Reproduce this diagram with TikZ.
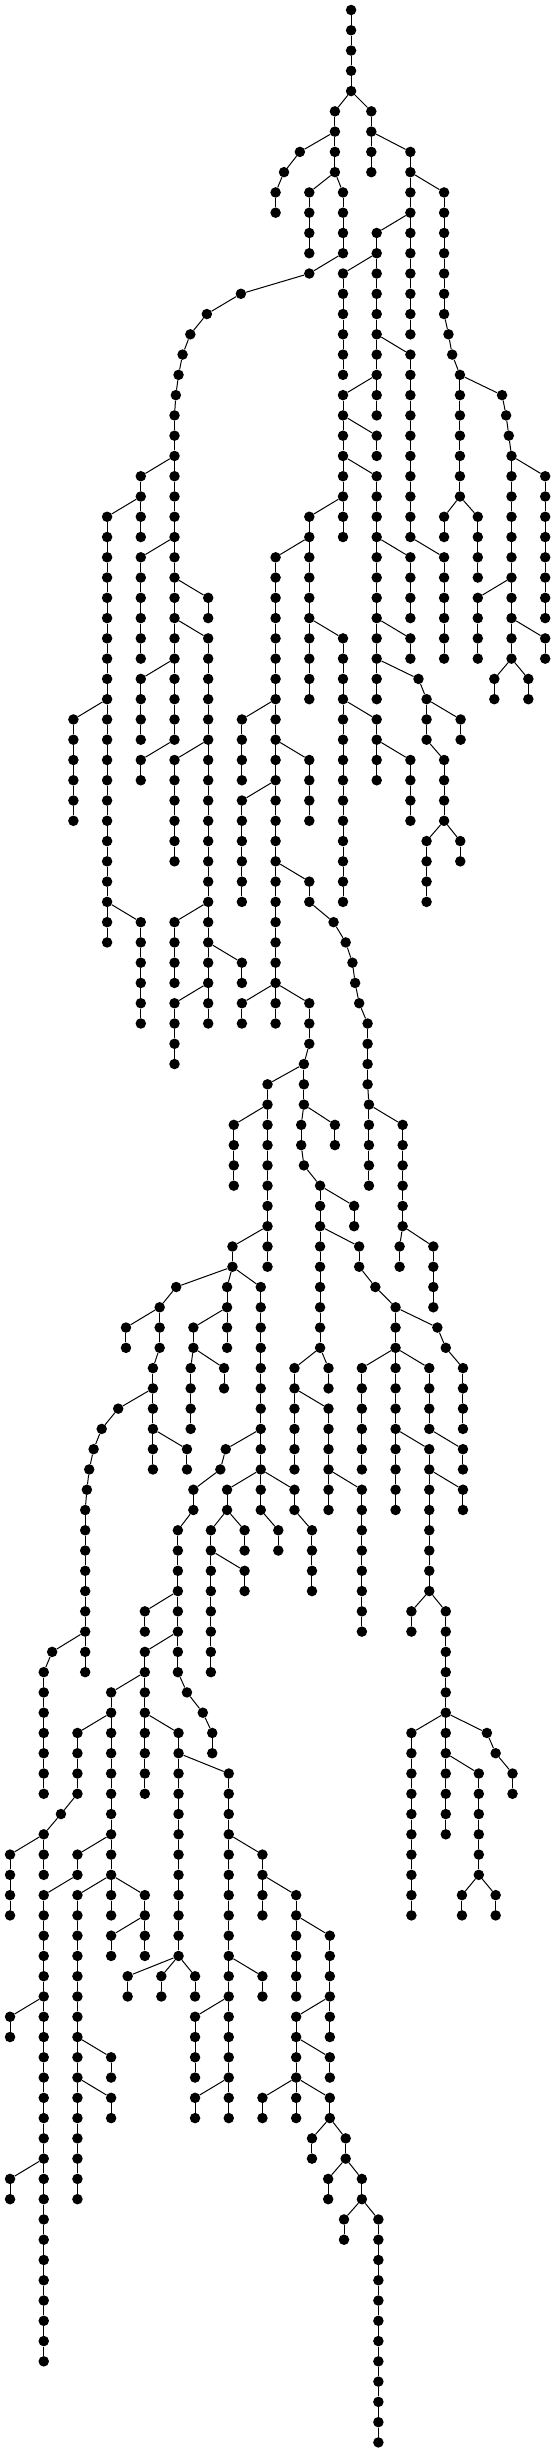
\documentclass[tikz,border=0pt]{standalone}
\usepackage{tikz}
\tikzset{vtx/.style={circle,fill=black,inner sep=0pt,minimum size=10.5pt},
         lnk/.style={line width=1pt}}
\newcommand{\colx}{33.7}
\newcommand{\rowy}{20.27}
\begin{document}
\begin{tikzpicture}[x=1pt,y=1pt]
  \useasboundingbox (0,0) rectangle (550,-2452);
  % root chain
  \foreach \r in {0,...,4}
    \node[vtx] (A-\r) at ({6+\colx*10.24},{-10-\rowy*\r}) {};
  \foreach \r in {1,...,4}{
    \pgfmathtruncatemacro{\rq}{\r-1}
    \draw[lnk] (A-\rq) -- (A-\r);
  }
  % chains: name/column/first row/last row/parent
  \foreach \id/\cx/\ra/\rb/\up in {
    B/9.76/5/8/A-4, C/10.84/5/8/A-4, D/8.72/7/7/B-6, E/8.25/8/8/D-7,
    F/8.0/9/10/E-8, G/9/9/12/B-8, H/10/9/12/B-8, I/12/7/16/C-6,
    J/13/9/15/I-8, K1/13.13/16/16/J-15, K2/13.24/17/17/K1-16, K3/13.47/18/24/K2-17,
    L/11/11/20/I-10, M/10/13/18/L-12, N/9/13/13/H-12,
    O1/6.97/14/14/N-13, O2/5.96/15/15/O1-14, O3/5.47/16/16/O2-15,
    O4/5.24/17/17/O3-16, O5/5.12/18/18/O4-17, O6/5.04/19/19/O5-18,
    P/5/20/36/O6-19, Q/12/17/26/L-16, R/10/19/26/L-18, S/11/21/22/R-20,
    T/11/23/34/R-22, U1/14.72/19/19/K3-18, U2/14.84/20/20/U1-19,
    U3/14.92/21/21/U2-20, V/15/22/32/U3-21, W/16/23/30/V-22, W2/16/31/32/V-30,
    X/13/25/26/K3-24, Y/14/25/28/K3-24, Y2/14/29/32/V-28, Z/9/25/34/R-24,
    a1/4/23/26/P-22, a2/3/25/46/a1-24, a3/2/35/40/a2-34, a4/4/27/32/P-26,
    a5/4/33/36/P-32, a6/4/37/38/P-36, a7/4/45/50/a2-44,
    b1/6/29/30/P-28, b2/6/31/50/P-30, b3/5/37/42/b2-36, b4/5/45/48/b2-44,
    b5/7/47/48/b2-46, b6/5/49/52/b2-48,
    c1/8/27/50/Z-26, c2/7/35/38/c1-34, c3/9/37/40/c1-36, c4/7/39/44/c1-38,
    c5/9/43/44/c1-42, c6/9.72/45/45/c5-44, c7/10.08/46/46/c6-45,
    c8/10.28/47/47/c7-46, c9/10.36/48/48/c8-47, c10/10.48/49/49/c9-48,
    c11/10.73/50/53/c10-49, c12/10.77/54/58/c11-53, c13/11.77/55/60/c12-54,
    c14/11.68/61/62/c13-60, c15/12.68/61/64/c13-60, c16/7/49/50/c1-48,
    c17/9/49/51/c1-48,
    j1/10/31/44/Z-30, j2/11/35/38/j1-34, j3/12/37/40/j2-36,
    k0/12/27/30/T-26, k8/13/27/32/Q-26, k1/12/31/32/T-30, k2/12.24/33/33/T-32,
    k3/12.48/34/36/k2-33, k4/13.49/35/36/k3-34, k5/13/37/40/k3-36,
    k6/12.48/41/44/k5-40, k7/13.48/41/42/k5-40,
    l1/14.49/33/34/V-32, l2/15.5/33/34/V-32,
    d1/8.84/52/54/c17-51, d2/7.76/53/62/d1-52, d3/8.76/55/56/d1-54,
    d4/9.76/55/56/d1-54, d5/8.84/57/57/d3-56, d6/9.32/58/66/d5-57,
    d7/10.33/59/60/d6-58, d8/10.48/61/62/d6-60, d9/10.96/63/63/d8-62,
    d10/6.76/55/58/d2-54, d12/6.72/61/62/d2-60, d13/5.05/63/63/d12-62,
    d14/6.56/63/66/d12-62, d15/7.56/63/74/d12-62,
    e1/4.56/64/66/d13-63, e2/3.56/65/66/e1-64, e3/4.36/67/72/e1-66,
    e4/3.33/69/69/e3-68, e5/2.84/70/70/e4-69, e6/2.6/71/71/e5-70,
    e7/2.47/72/72/e6-71, e8/2.4/73/73/e7-72, e9/2.35/74/82/e8-73,
    e10/5.37/71/72/e3-70, e11/5.56/65/66/d14-64, e12/5.48/67/70/e11-66,
    e13/6.47/67/68/e11-66, e14/6.52/71/71/d15-70, e15/6.36/72/72/e14-71,
    e16/5.56/73/74/e15-72, e17/5.1/75/82/e16-74, e18/6.56/73/74/d15-72,
    e19/8.56/73/74/d15-72, e20/6.08/75/82/e18-74, e21/7.08/75/76/e18-74,
    e22/8.08/75/76/d15-74, e23/9.08/75/78/e19-74, e24/7.08/77/78/e20-76,
    f1/8.56/67/72/d6-66, f2/9.57/67/68/d6-66, f3/9.57/69/74/f1-68,
    f4/10.56/73/80/f3-72, f5/11.56/64/66/d9-63, f6/12.8/65/65/f5-64,
    f7/13.05/66/66/f6-65, f8/13.56/67/70/f7-66, f9/10.56/67/72/f5-66,
    f10/11.56/67/74/f5-66, f11/12.56/67/70/f5-66, f12/13.56/71/72/f11-70,
    f13/12.56/71/78/f10-70, f14/13.56/73/74/f13-72, f15/12.03/79/80/f13-78,
    f16/13.05/79/90/f13-78, f17/12.03/85/94/f16-84, f18/14.27/85/85/f16-84,
    f19/14.53/86/86/f18-85, f20/15.03/87/88/f19-86, f21/14.03/87/92/f16-86,
    f22/13.53/93/94/f21-92, f23/14.53/93/94/f21-92,
    g1/1.37/81/81/e9-80, g2/1.12/82/88/g1-81, g3/4.12/79/80/e17-78,
    g4/4.12/81/88/e17-80, g5/3.12/83/92/g4-82, g6/2.12/85/88/g5-84,
    g7/5.37/83/83/e17-82, g8/5.84/84/84/g7-83, g9/6.12/85/86/g8-84,
    g10/5.12/85/96/g4-84, g11/6.61/87/104/g10-86,
    h1/1.63/89/89/g6-88, h2/1.12/90/92/h1-89, h3/0.12/91/94/h2-90,
    h4/2.12/91/92/g5-90, h5/1.12/93/116/h4-92, h6/2.12/93/108/g5-92,
    h7/3.12/93/94/g5-92, h8/4.12/93/94/g5-92, h9/3.12/95/96/h8-94,
    h10/4.12/95/96/h8-94, h11/3.61/97/98/g10-96, h12/4.61/97/98/g10-96,
    h13/5.61/97/98/g10-96, h14/0.12/99/100/h5-98, h15/7.61/91/94/g11-90,
    h16/8.61/93/98/h15-92, h17/9.61/95/100/h16-94, h18/7.61/97/98/g11-96,
    h19/5.61/99/102/g11-98, h20/8.61/99/104/h17-98,
    i1/0.12/107/108/h5-106, i2/3.12/101/102/h6-100, i3/3.12/103/104/h6-102,
    i4/5.61/103/104/g11-102, i5/9.61/101/102/h20-100, i6/7.61/103/104/h20-102,
    i7/9.61/103/104/h20-102, i8/9.08/105/106/i7-104, i9/10.08/105/106/i7-104,
    i10/9.56/107/108/i9-106, i11/10.56/107/108/i9-106,
    i12/10.03/109/110/i11-108, i13/11.05/109/120/i11-108}{
    \foreach \r in {\ra,...,\rb}
      \node[vtx] (\id-\r) at ({6+\colx*\cx},{-10-\rowy*\r}) {};
    \draw[lnk] (\up) -- (\id-\ra);
    \ifnum\ra<\rb
      \pgfmathtruncatemacro{\rs}{\ra+1}
      \foreach \r in {\rs,...,\rb}{
        \pgfmathtruncatemacro{\rq}{\r-1}
        \draw[lnk] (\id-\rq) -- (\id-\r);
      }
    \fi
  }
\end{tikzpicture}
\end{document}
